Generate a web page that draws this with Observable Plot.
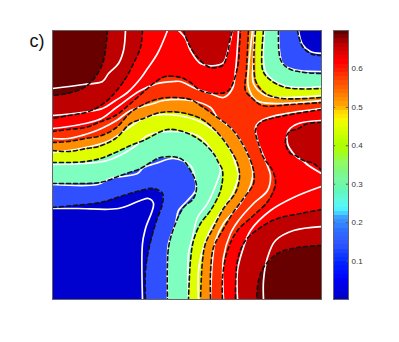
<!DOCTYPE html>
<html><head><meta charset="utf-8">
<script src="https://cdn.jsdelivr.net/npm/d3@7"></script>
<script src="https://cdn.jsdelivr.net/npm/@observablehq/plot@0.6"></script>
<style>html,body{margin:0;padding:0;background:#fff}#c{position:relative;width:399px;height:342px;overflow:hidden}#c svg{position:absolute;left:0;top:0;background:transparent}</style>
</head><body><div id="c"></div>
<script>
// contour levels, in matrix cells (column,row), 270 x 270
const maroonTL=[[55,0],[51,30],[45,43],[38,52],[30,58],[15,63],[0,65]];
const whiteTL8=[[73,0],[71,20],[66,33],[56,43],[50,51],[31,54],[0,58]];
const darkTL=[[90,0],[88,17],[81,33],[73,48],[58,67],[45,77],[33,82],[16,85],[0,88]];
const whiteTL7=[[115,0],[105,23],[95,38],[88,48],[75,62],[63,70],[50,78],[21,83],[0,85]];
const redTL=[[0,101],[16,99],[33,97],[46,92],[63,85],[78,73],[95,58],[105,50],[113,46],[128,47],[138,52],[148,60],[165,63],[176,60],[185,37],[187,15],[188,0]];
const whiteTL6=[[0,98],[16,96],[33,93],[49,88],[64,77],[88,60],[105,53],[121,51],[128,51],[143,58],[158,63],[171,67],[180,58],[183,40],[186,0]];
const darkTop=[[131,0],[136,13],[145,27],[158,37],[170,35],[175,23],[178,7],[180,0]];
const whiteTop=[[126,0],[133,8],[138,20],[148,33],[163,35],[171,32],[176,18],[180,0]];
const orangeBL=[[0,112],[16,111],[33,108],[49,105],[64,97],[78,82],[93,73],[108,68],[121,67],[138,69],[148,75],[165,87],[178,97],[186,107],[195,123],[201,140],[201,153],[191,168],[180,183],[170,200],[161,217],[158,243],[158,269]];
const whiteBL5=[[0,108],[16,108],[36,103],[49,98],[64,90],[78,80],[101,73],[111,70],[138,70],[158,77],[165,87],[178,97],[186,107],[195,123],[200,140],[200,147],[196,160],[185,177],[171,193],[163,210],[160,230],[158,269]];
const yellowBL=[[0,120],[16,121],[34,118],[46,116],[63,108],[78,93],[91,88],[108,82],[128,82],[148,88],[161,98],[175,115],[185,133],[187,147],[183,162],[171,178],[161,197],[153,213],[150,230],[148,269]];
const whiteBL4=[[0,122],[28,118],[55,111],[75,98],[91,88],[111,84],[145,90],[165,103],[178,120],[185,140],[186,143],[180,163],[168,182],[156,203],[150,220],[146,240],[146,269]];
const aquaBL=[[0,132],[16,132],[33,131],[48,128],[63,122],[78,115],[91,110],[115,99],[133,102],[148,110],[161,123],[166,132],[170,140],[168,160],[158,180],[148,193],[141,210],[138,230],[136,269]];
const whiteBL3=[[0,134],[31,133],[55,130],[81,117],[95,105],[121,101],[145,105],[158,118],[166,132],[168,140],[165,150],[155,173],[145,187],[140,207],[136,223],[136,269]];
const blueBL=[[0,153],[21,153],[48,152],[68,145],[88,138],[98,132],[108,127],[128,128],[138,140],[144,155],[141,168],[131,177],[123,193],[116,217],[115,269]];
const whiteBL2=[[0,154],[45,154],[58,148],[85,143],[91,137],[103,133],[121,128],[138,135],[143,150],[143,160],[135,170],[126,180],[123,193],[116,213],[115,227],[115,269]];
const deepBL=[[0,177],[21,175],[48,172],[71,165],[88,160],[101,158],[110,163],[110,173],[103,193],[96,220],[93,240],[93,269]];
const whiteBL1=[[0,178],[25,178],[66,178],[88,170],[96,168],[101,173],[93,198],[90,213],[90,269]];
const orangeTR=[[196,0],[194,39],[193,60],[200,68],[210,75],[238,74],[269,72]];
const whiteTR5=[[200,0],[196,39],[196,57],[204,70],[223,73],[269,70]];
const yellowTR=[[203,0],[203,50],[213,63],[230,68],[269,67]];
const whiteTR4=[[202,0],[201,30],[201,53],[213,65],[226,67],[269,65]];
const aquaTR=[[211,0],[210,39],[216,48],[233,57],[269,58]];
const whiteTR3=[[212,0],[211,30],[214,43],[226,53],[243,57],[269,56]];
const blueTR=[[226,0],[228,29],[236,38],[252,42],[269,43]];
const whiteTR2=[[226,0],[230,33],[241,39],[269,41]];
const deepTR=[[245,0],[250,16],[260,24],[269,25]];
const whiteTR1=[[246,0],[250,14],[258,21],[269,23]];
const redBR=[[269,79],[250,82],[223,87],[208,92],[203,100],[206,113],[211,127],[220,140],[223,153],[216,170],[201,185],[185,200],[175,220],[170,247],[170,269]];
const whiteBR6=[[269,78],[240,82],[216,87],[206,92],[203,97],[206,113],[210,123],[216,138],[218,145],[215,160],[201,173],[186,190],[178,203],[171,227],[171,269]];
const darkRight=[[269,92],[255,93],[246,98],[236,102],[233,113],[238,123],[243,125],[251,130],[261,133],[269,140]];
const whiteRight=[[269,90],[246,93],[236,100],[235,113],[240,122],[245,127],[250,130],[256,135],[269,143]];
const darkBR=[[269,179],[248,183],[225,188],[208,197],[193,210],[185,230],[183,269]];
const whiteBR7=[[269,156],[241,167],[218,180],[198,200],[190,220],[185,240],[185,269]];
const maroonBR=[[269,215],[245,217],[225,223],[211,237],[206,250],[204,269]];
const whiteBR8=[[269,196],[241,200],[223,210],[215,227],[211,250],[211,269]];

const TL=[[0,0]], BL=[[0,269]], TR=[[269,0]], BR=[[269,269]];
const C={base:"#ff3000",red:"#ff0000",dark:"#bf0000",maroon:"#680000",orange:"#ff8f00",yellow:"#dfff00",aqua:"#7fffbf",blue:"#3050ff",deep:"#0000cf"};

const bands=[
 [redTL,TL,C.red],[darkTL,TL,C.dark],[maroonTL,TL,C.maroon],[darkTop,[],C.dark],
 [redBR,BR,C.red],[darkRight,[],C.dark],[darkBR,BR,C.dark],[maroonBR,BR,C.maroon],
 [orangeBL,BL,C.orange],[yellowBL,BL,C.yellow],[aquaBL,BL,C.aqua],[blueBL,BL,C.blue],[deepBL,BL,C.deep],
 [orangeTR,TR,C.orange],[yellowTR,TR,C.yellow],[aquaTR,TR,C.aqua],[blueTR,TR,C.blue],[deepTR,TR,C.deep]
];
const whites=[whiteTL8,whiteTL7,whiteTL6,whiteTop,whiteBL5,whiteBL4,whiteBL3,whiteBL2,whiteBL1,whiteTR5,whiteTR4,whiteTR3,whiteTR2,whiteTR1,whiteBR6,whiteRight,whiteBR7,whiteBR8];

// colour bar
const barColors=["#0000c8","#0000d4","#0000e0","#0000ea","#0000f4","#0008fa","#0010ff","#0018ff","#0020ff","#0830ff","#1038ff","#1c44ff","#2850ff","#3058ff","#3060ff","#3068ff","#3070ff","#3480ff","#3890ff","#40a0ff","#48d0ff","#50f0ff","#58f8f0","#60f8e0","#60f8d0","#60f8c0","#68f8b0","#70f8a8","#78f8a0","#7cf890","#80f880","#88fa70","#90fc60","#98fc40","#a0fe20","#a8ff10","#b0ff00","#b8ff00","#c4ff00","#d0ff00","#dcff00","#e8ff00","#f4f800","#ffe800","#ffd800","#ffb800","#ff9f00","#ff8f00","#ff7f00","#ff6f00","#ff5f00","#ff4f00","#ff3f00","#ff2f00","#ff1f00","#ff0f00","#ff0000","#ef0000","#df0000","#cf0000","#bf0000","#a00000","#800000","#600000"];
const barTop=0.7;
const barTicks=[0.1,0.2,0.3,0.4,0.5,0.6];
const panelLabel="c)";

const X=d=>d[0], Y=d=>d[1];
const map=Plot.plot({
  width:399,height:342,marginLeft:52,marginRight:78,marginTop:30,marginBottom:43,
  x:{domain:[0,269],axis:null},y:{domain:[0,269],reverse:true,axis:null},
  marks:[
    Plot.frame({fill:C.base,stroke:"none"}),
    ...bands.map(([b,c,col])=>Plot.line(b.concat(c),{x:X,y:Y,fill:col,stroke:"none",clip:"frame"})),
    ...whites.map(w=>Plot.line(w,{x:X,y:Y,stroke:"#fff",strokeWidth:1.7,curve:"catmull-rom",clip:"frame"})),
    ...bands.map(([b])=>Plot.line(b,{x:X,y:Y,stroke:"#111",strokeWidth:1.6,strokeDasharray:"4,3",curve:"catmull-rom",clip:"frame"})),
    Plot.frame({stroke:"#666",strokeWidth:1}),
    Plot.text([panelLabel],{x:()=>-23,y:()=>16,text:d=>d,textAnchor:"start",lineAnchor:"bottom",fontSize:18,fontFamily:"Liberation Sans",fill:"#111"})
  ]
});
const bar=Plot.plot({
  width:399,height:342,marginLeft:333,marginRight:51,marginTop:30,marginBottom:43,
  x:{domain:[0,1],axis:null},y:{domain:[0,barTop]},
  marks:[
    Plot.rect(barColors,{x1:()=>0,x2:()=>1,y1:(d,i)=>i*barTop/barColors.length,y2:(d,i)=>(i+1)*barTop/barColors.length,fill:d=>d,shapeRendering:"crispEdges"}),
    Plot.ruleY(barTicks,{x1:()=>0,x2:()=>0.14,stroke:"#555",strokeWidth:1}),
    Plot.ruleY(barTicks,{x1:()=>0.86,x2:()=>1,stroke:"#555",strokeWidth:1}),
    Plot.axisY(barTicks,{anchor:"right",tickSize:0,tickPadding:3,label:null,fontSize:8,fontFamily:"Liberation Sans",tickFormat:d=>d.toFixed(1),color:"#333"}),
    Plot.frame({stroke:"#666",strokeWidth:1})
  ]
});
const c=document.getElementById("c");
c.appendChild(map);c.appendChild(bar);
</script>
</body></html>
